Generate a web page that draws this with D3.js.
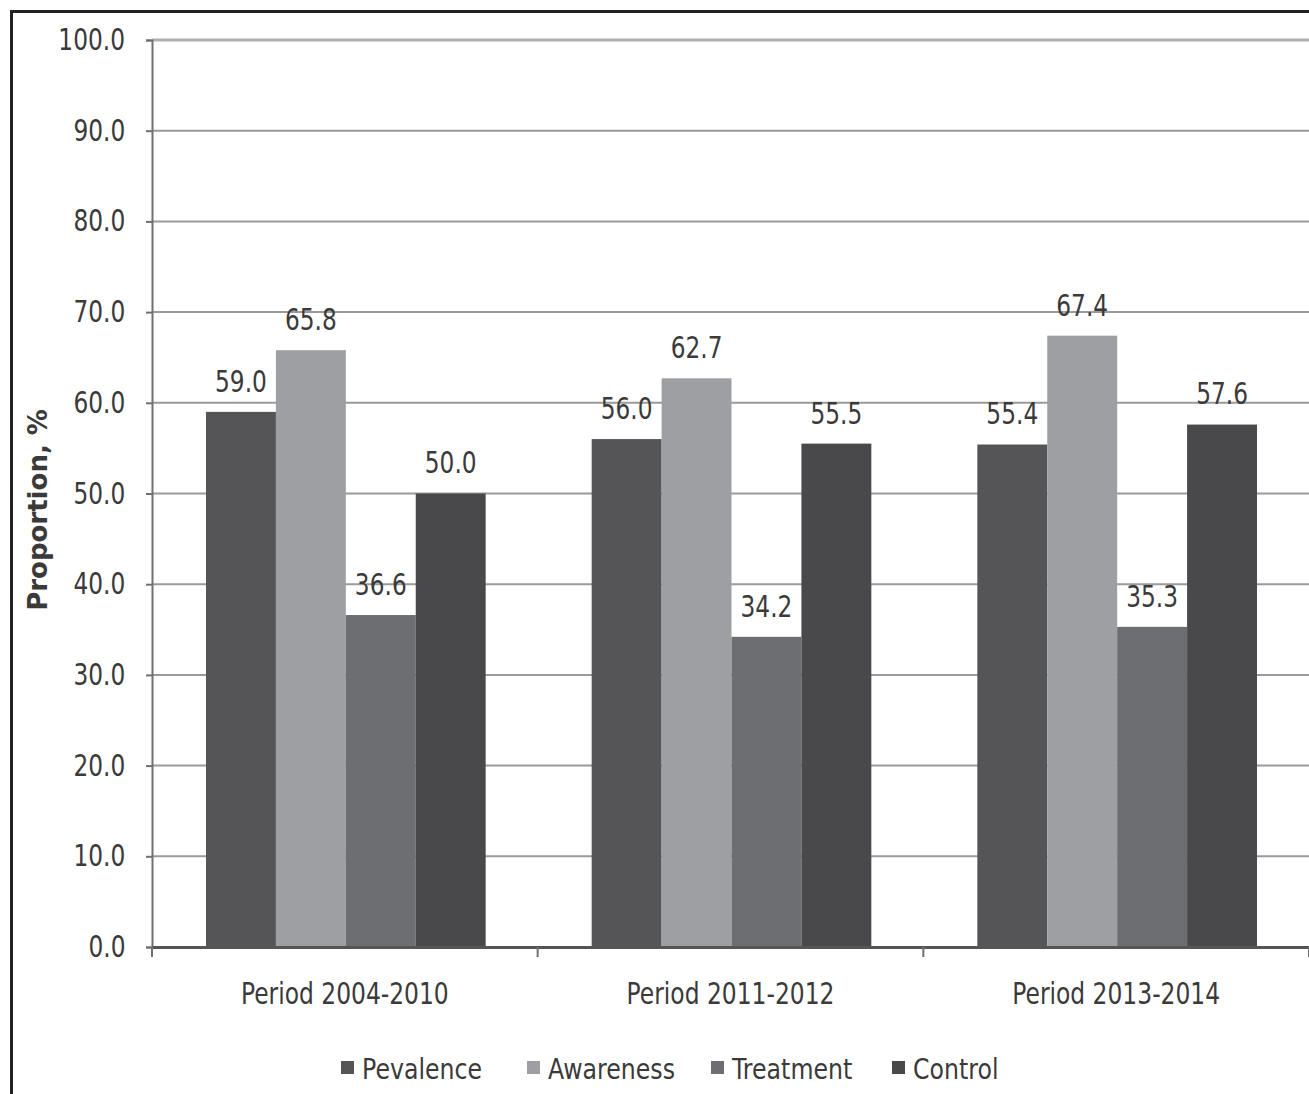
<!DOCTYPE html>
<html>
<head>
<meta charset="utf-8">
<script src="https://cdnjs.cloudflare.com/ajax/libs/d3/7.8.5/d3.min.js"></script>
<style>
  body { margin: 0; background: #fff; }
  text { font-family: "DejaVu Sans", sans-serif; fill: #3a3a3a; }
  .tall { transform-box: fill-box; transform-origin: center; transform: scale(0.97, 1.22); }
  .tall2 { transform-box: fill-box; transform-origin: center; transform: scale(0.9, 1.14); }
  .leg { transform-box: fill-box; transform-origin: left center; transform: scale(0.91, 1.12); }
</style>
</head>
<body>
<div class="chart"></div>
<script>
var categories = ["Period 2004-2010", "Period 2011-2012", "Period 2013-2014"];
var seriesNames = ["Pevalence", "Awareness", "Treatment", "Control"];
var pevalence = [59.0, 56.0, 55.4];
var awareness = [65.8, 62.7, 67.4];
var treatment = [36.6, 34.2, 35.3];
var control = [50.0, 55.5, 57.6];
var yTicks = [0, 10, 20, 30, 40, 50, 60, 70, 80, 90, 100];

var colors = ["#555558", "#9d9fa2", "#6c6e71", "#49494c"];

var svgWidth = 1309;
var svgHeight = 1094;

var margin = { top: 40, right: 0, bottom: 147, left: 152 };
var width = svgWidth - margin.left - margin.right;
var height = svgHeight - margin.top - margin.bottom;

var svg = d3.select(".chart")
  .append("svg")
  .attr("width", svgWidth)
  .attr("height", svgHeight);

// outer frame (cut off on right and bottom)
svg.append("rect")
  .attr("x", 11.5)
  .attr("y", 11.5)
  .attr("width", svgWidth + 20)
  .attr("height", svgHeight + 20)
  .attr("fill", "none")
  .attr("stroke", "#222")
  .attr("stroke-width", 3);

var chartGroup = svg.append("g")
  .attr("transform", `translate(${margin.left}, ${margin.top})`);

var data = categories.map(function (c, i) {
  return { cat: c, values: [pevalence[i], awareness[i], treatment[i], control[i]] };
});

var x0 = d3.scaleBand()
  .domain(categories)
  .range([0, width])
  .padding(0);

var x1 = d3.scaleBand()
  .domain(seriesNames)
  .range([54, x0.bandwidth() - 52])
  .padding(0);

var y = d3.scaleLinear()
  .domain([0, 100])
  .range([height, 0]);

// gridlines
chartGroup.selectAll(".grid")
  .data(yTicks.slice(1))
  .enter()
  .append("line")
  .attr("x1", 0)
  .attr("x2", width)
  .attr("y1", d => y(d))
  .attr("y2", d => y(d))
  .attr("stroke", d => d === 100 ? "#b0b0b0" : "#9a9a9a")
  .attr("stroke-width", d => d === 100 ? 3 : 2);

// y axis
var leftAxis = d3.axisLeft(y)
  .tickValues(yTicks)
  .tickFormat(d3.format(".1f"))
  .tickSize(6)
  .tickPadding(20);

var yAxisG = chartGroup.append("g").call(leftAxis);
yAxisG.select(".domain").attr("stroke", "#707070").attr("stroke-width", 2);
yAxisG.selectAll(".tick line").attr("stroke", "#707070").attr("stroke-width", 2);
yAxisG.selectAll(".tick text")
  .attr("class", "tall")
  .style("font-family", "'DejaVu Sans', sans-serif")
  .attr("font-size", 24)
  .attr("fill", "#3a3a3a");

// bars
var groups = chartGroup.selectAll(".group")
  .data(data)
  .enter()
  .append("g")
  .attr("transform", d => `translate(${x0(d.cat)}, 0)`);

groups.selectAll("rect")
  .data(d => d.values.map((v, i) => ({ name: seriesNames[i], value: v, i: i })))
  .enter()
  .append("rect")
  .attr("x", d => x1(d.name))
  .attr("width", x1.bandwidth())
  .attr("y", d => y(d.value))
  .attr("height", d => height - y(d.value))
  .attr("fill", d => colors[d.i]);

groups.selectAll(".val")
  .data(d => d.values.map((v, i) => ({ name: seriesNames[i], value: v })))
  .enter()
  .append("text")
  .attr("class", "tall")
  .attr("x", d => x1(d.name) + x1.bandwidth() / 2)
  .attr("y", d => y(d.value) - 22)
  .attr("text-anchor", "middle")
  .attr("font-size", 24)
  .text(d => d.value.toFixed(1));

// x axis
var bottomAxis = d3.axisBottom(x0).tickSize(0).tickPadding(37);
var xAxisG = chartGroup.append("g")
  .attr("transform", `translate(0, ${height})`)
  .call(bottomAxis);
xAxisG.select(".domain").attr("stroke", "#555").attr("stroke-width", 3);
xAxisG.selectAll(".tick text")
  .attr("class", "tall2")
  .style("font-family", "'DejaVu Sans', sans-serif")
  .attr("font-size", 26)
  .attr("fill", "#3a3a3a");

// category boundary ticks
chartGroup.selectAll(".xb")
  .data(categories)
  .enter()
  .append("line")
  .attr("x1", d => x0(d) + x0.bandwidth())
  .attr("x2", d => x0(d) + x0.bandwidth())
  .attr("y1", height)
  .attr("y2", height + 10)
  .attr("stroke", "#707070")
  .attr("stroke-width", 2);
chartGroup.append("line")
  .attr("x1", 0).attr("x2", 0)
  .attr("y1", height).attr("y2", height + 10)
  .attr("stroke", "#707070").attr("stroke-width", 2);

// y axis title
chartGroup.append("text")
  .attr("transform", "rotate(-90)")
  .attr("x", -470)
  .attr("y", -105)
  .attr("text-anchor", "middle")
  .attr("font-weight", "bold")
  .attr("font-size", 26)
  .style("font-family", "'DejaVu Sans', sans-serif")
  .attr("fill", "#222")
  .text("Proportion, %");

// legend
var legendX = [341, 527, 711, 892];
var legend = svg.selectAll(".legend")
  .data(seriesNames)
  .enter()
  .append("g")
  .attr("transform", (d, i) => `translate(${legendX[i]}, 1068)`);

legend.append("rect")
  .attr("x", 0)
  .attr("y", -7)
  .attr("width", 13)
  .attr("height", 13)
  .attr("fill", (d, i) => colors[i]);

legend.append("text")
  .attr("class", "leg")
  .attr("x", 21)
  .attr("y", 10)
  .attr("font-size", 26)
  .text(d => d);
</script>
</body>
</html>
